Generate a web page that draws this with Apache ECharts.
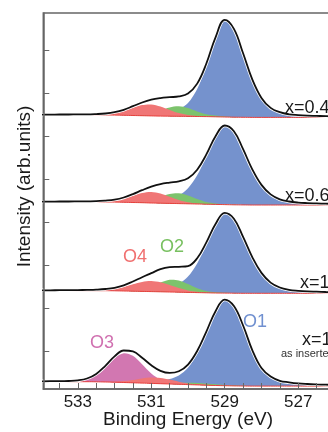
<!DOCTYPE html>
<html><head><meta charset="utf-8">
<script src="https://cdn.jsdelivr.net/npm/echarts@6.0.0/dist/echarts.min.js"></script>
<style>html,body{margin:0;padding:0;overflow:hidden;background:#fff;width:328px;height:432px}#c{width:400px;height:432px}</style>
</head><body><div id="c"></div><script>
// Binding energy grid (eV)
const energy = [534,533.75,533.5,533.25,533,532.75,532.5,532.25,532,531.75,531.5,531.25,531,530.75,530.5,530.25,530,529.75,529.5,529.25,529,528.75,528.5,528.25,528,527.75,527.5,527.25,527,526.75,526.5,526.25,526];
const xTicks = [526.5,527,527.5,528,528.5,529,529.5,530,530.5,531,531.5,532,532.5,533,533.5];
const xLabels = [527,529,531,533];
const yTicks = [38,81,124,167,210,253,296,339];

// x = 0.4 (top)
const bg1  = [274.0,274.0,274.0,274.0,274.0,274.0,274.0,274.0,273.9,273.7,273.5,273.3,273.1,272.9,272.8,272.7,272.6,272.5,272.4,272.2,272.0,271.8,271.7,271.6,271.6,271.6,271.6,271.6,271.6,271.6,271.6,271.6,271.6];
const o1_1 = [0.4,0.4,0.5,0.5,0.6,0.6,0.7,0.9,1.0,1.2,1.4,1.7,2.1,2.7,3.9,6.7,13.3,27.4,50.7,78.3,96.5,88.0,64.0,38.0,19.5,9.5,5.2,3.1,2.3,1.8,1.5,1.2,1.1];
const o2_1 = [0,0,0,0,0,0,0,0,0,0,0.2,0.9,2.7,5.7,8.8,10.0,8.4,5.1,2.3,1.2,0.6,0.3,0,0,0,0,0,0,0,0,0,0,0];
const o4_1 = [0,0,0,0,0,0,0.2,0.6,1.9,4.3,7.7,10.6,11.4,9.6,6.3,3.2,1.3,0.4,0.1,0,0,0,0,0,0,0,0,0,0,0,0,0,0];
const env1 = [274.4,274.4,274.5,274.5,274.6,274.6,274.9,275.5,276.8,279.2,282.8,286.5,289.3,290.9,291.8,292.6,295.6,305.4,325.5,351.7,369.1,360.1,335.7,309.6,291.1,281.1,276.8,274.7,273.9,273.4,273.1,272.8,272.7];

// x = 0.6
const bg2  = [187.0,187.0,187.0,187.0,187.0,187.0,187.0,187.0,186.9,186.7,186.5,186.3,186.0,185.8,185.6,185.4,185.2,185.0,184.8,184.6,184.4,184.2,184.1,184.0,184.0,184.0,184.0,184.0,184.0,184.0,184.0,184.0,184.0];
const o1_2 = [0.4,0.4,0.5,0.5,0.6,0.7,0.7,0.9,1.0,1.2,1.4,1.7,2.2,3.0,4.6,8.2,15.6,28.8,47.5,67.2,78.7,73.4,55.7,35.7,20.1,10.6,5.7,3.5,2.4,1.9,1.6,1.3,1.1];
const o2_2 = [0,0,0,0,0,0,0,0,0,0,0.3,1.1,3.1,6.4,9.5,10.4,8.4,5.0,2.2,1.0,0.4,0.2,0,0,0,0,0,0,0,0,0,0,0];
const o4_2 = [0,0,0,0,0,0,0.1,0.5,1.5,3.6,6.7,9.7,11.0,9.7,6.7,3.6,1.5,0.5,0.1,0,0,0,0,0,0,0,0,0,0,0,0,0,0];
const env2 = [187.4,187.4,187.5,187.5,187.6,187.7,187.8,188.4,189.4,191.5,194.9,198.8,202.3,204.9,206.4,207.6,210.7,219.3,234.6,252.8,263.5,257.8,239.8,219.7,204.1,194.6,189.7,187.5,186.4,185.9,185.6,185.3,185.1];

// x = 1
const bg3  = [98.3,98.3,98.3,98.3,98.3,98.3,98.3,98.3,98.2,98.0,97.8,97.6,97.4,97.2,97.0,96.8,96.6,96.4,96.2,96.0,95.9,95.8,95.7,95.7,95.7,95.7,95.7,95.7,95.7,95.7,95.7,95.7,95.7];
const o1_3 = [0.4,0.4,0.5,0.5,0.6,0.7,0.8,0.9,1.0,1.2,1.4,1.8,2.2,3.0,4.7,8.3,15.8,29.1,48.1,68.1,79.7,74.3,56.4,36.2,20.4,10.7,5.8,3.5,2.5,1.9,1.6,1.3,1.1];
const o2_3 = [0,0,0,0,0,0,0,0,0,0.1,0.6,2.1,5.1,9.2,12.2,11.8,8.4,4.4,1.7,0.8,0.4,0.2,0,0,0,0,0,0,0,0,0,0,0];
const o4_3 = [0,0,0,0,0,0.1,0.3,0.8,2.0,4.1,6.9,9.5,10.5,9.5,6.9,4.1,2.0,0.8,0.3,0.1,0,0,0,0,0,0,0,0,0,0,0,0,0];
const env3 = [98.7,98.7,98.8,98.8,98.9,99.1,99.4,100.0,101.2,103.6,107.5,111.8,115.8,119.8,121.8,122.2,122.9,130.7,146.6,165.0,176.2,170.3,152.1,131.9,116.1,106.4,101.5,99.2,98.2,97.6,97.3,97.0,96.8];

// x = 1, as inserted (bottom)
const bg4  = [7.3,7.3,7.3,7.3,7.3,7.3,7.2,7.0,6.8,6.5,6.2,5.9,5.6,5.3,5.0,4.7,4.4,4.1,3.8,3.5,3.3,3.1,3.0,2.9,2.9,2.9,2.9,2.9,2.9,2.9,2.9,2.9,2.9];
const o1_4 = [0.4,0.5,0.5,0.6,0.6,0.7,0.8,0.9,1.1,1.3,1.5,1.9,2.4,3.2,5.0,8.9,16.9,31.1,51.4,72.8,85.2,79.4,60.3,36.0,18.0,9.5,5.3,3.8,2.7,2.1,1.7,1.4,1.2];
const o3_4 = [0,0,0,0.1,0.7,2.5,7.1,15.1,24.2,29.3,27.0,18.8,9.9,4.0,1.2,0.3,0.1,0,0,0,0,0,0,0,0,0,0,0,0,0,0,0,0];
const o2_4 = [0,0,0,0,0,0,0,0,0,0,0,0,0,0,0.5,1.2,1.8,2.0,1.7,1.2,0.7,0.4,0.2,0,0,0,0,0,0,0,0,0,0];
const o4_4 = [0,0,0,0,0,0,0,0.2,0.5,1.4,2.9,4.7,5.9,5.7,4.4,2.6,1.2,0.8,0.5,0.3,0.2,0,0,0,0,0,0,0,0,0,0,0,0];
const env4 = [7.7,7.8,7.8,8.0,8.6,10.5,15.1,23.2,32.6,38.5,37.6,31.3,23.8,18.2,16.1,17.7,24.4,38.0,57.4,77.8,89.4,82.9,63.5,38.9,20.9,12.4,8.2,6.7,5.6,5.0,4.6,4.3,4.1];

const BLUE='#7592cd', GREEN='#7cc36c', RED='#f07676', MAG='#d277b1';
const FONT='"Liberation Sans", Arial, sans-serif';

const spectra = [
  {bg:bg1, env:env1, comps:[[o1_1,BLUE],[o2_1,GREEN],[o4_1,RED]]},
  {bg:bg2, env:env2, comps:[[o1_2,BLUE],[o2_2,GREEN],[o4_2,RED]]},
  {bg:bg3, env:env3, comps:[[o1_3,BLUE],[o2_3,GREEN],[o4_3,RED]]},
  {bg:bg4, env:env4, comps:[[o1_4,BLUE],[o3_4,MAG],[o2_4,GREEN],[o4_4,RED]]}
];

function polyRender(bg, vals, color){
  return function(params, api){
    if (params.dataIndex !== 0) return null;
    const top=[], bot=[];
    for (let i=0;i<energy.length;i++){
      top.push(api.coord([energy[i], bg[i]+vals[i]]));
      bot.push(api.coord([energy[i], bg[i]]));
    }
    return {type:'polygon', shape:{points: top.concat(bot.reverse()), smooth:0.3}, style:{fill:color, stroke:null}};
  };
}

const series=[];
spectra.forEach(s=>{
  s.comps.forEach(([vals,color])=>{
    series.push({type:'custom', coordinateSystem:'cartesian2d', clip:true, silent:true,
      data: energy.map((e,i)=>[e, s.bg[i]+vals[i]]), encode:{x:0,y:1},
      renderItem: polyRender(s.bg, vals, color)});
  });
  series.push({type:'line', data: energy.map((e,i)=>[e,s.bg[i]]), showSymbol:false, smooth:0.4, silent:true,
    lineStyle:{color:'#e8403c', width:1}});
  series.push({type:'line', data: energy.map((e,i)=>[e,s.env[i]]), showSymbol:false, smooth:0.4, silent:true,
    lineStyle:{color:'#ffffff', width:3.4}});
  series.push({type:'line', data: energy.map((e,i)=>[e,s.env[i]]), showSymbol:false, smooth:0.4, silent:true,
    lineStyle:{color:'#111111', width:1.8}});
});

function txt(x,y,text,color,size,rot,align){
  return {type:'text', x:x, y:y, rotation:rot||0, z:100,
    style:{text:text, fill:color, font:size+'px '+FONT, align:align||'left', verticalAlign:'middle'}};
}

const chart = echarts.init(document.getElementById('c'), null, {renderer:'canvas'});
chart.setOption({
  animation:false,
  backgroundColor:'#ffffff',
  grid:{left:43.3, top:13, width:289.4, height:376, show:true, borderColor:'#666', borderWidth:1.5,
    backgroundColor:'transparent', containLabel:false, outerBoundsMode:'none'},
  xAxis:{type:'value', inverse:true, min:526.06, max:533.94, z:10,
    axisLine:{show:true, lineStyle:{color:'#666', width:1.5}},
    axisTick:{show:true, inside:true, length:6, customValues:xTicks, lineStyle:{color:'#666', width:1}},
    axisLabel:{show:true, customValues:xLabels, margin:5, fontSize:17, color:'#1a1a1a', fontFamily:FONT, hideOverlap:false},
    splitLine:{show:false},
    name:'Binding Energy (eV)', nameLocation:'middle', nameGap:21, nameMoveOverlap:false,
    nameTextStyle:{fontSize:19, color:'#1a1a1a', fontFamily:FONT}},
  yAxis:{type:'value', min:0, max:376, z:10,
    axisLine:{show:true, lineStyle:{color:'#666', width:1.5}},
    axisTick:{show:true, inside:true, length:6, customValues:yTicks, lineStyle:{color:'#666', width:1}},
    axisLabel:{show:false},
    splitLine:{show:false}},
  series: series,
  graphic: [
    txt(25,186.5,'Intensity (arb.units)','#1a1a1a',19,Math.PI/2,'center'),
    txt(285,108,'x=0.4','#1a1a1a',18),
    txt(285,196,'x=0.6','#1a1a1a',18),
    txt(300,283,'x=1','#1a1a1a',18),
    txt(302,340,'x=1','#1a1a1a',18),
    txt(281,354,'as inserted','#333',11),
    txt(123,257,'O4','#f07070',18),
    txt(160,247,'O2','#78c060',18),
    txt(90,343,'O3','#d070b0',18),
    txt(243,322,'O1','#7090d0',18)
  ]
});
</script></body></html>
